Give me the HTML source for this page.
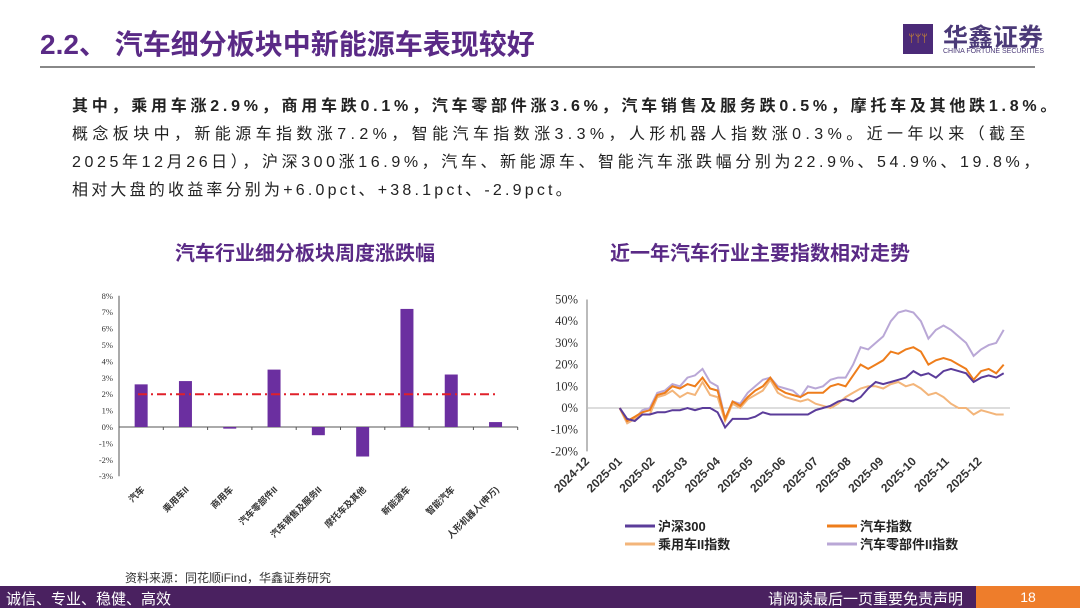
<!DOCTYPE html>
<html><head><meta charset="utf-8">
<style>
body{margin:0;width:1080px;height:608px;position:relative;background:#fff;font-family:"Liberation Sans","Noto Sans CJK SC",sans-serif;overflow:hidden}
.abs{position:absolute}
.p{left:72px;font-size:16px;color:#222;white-space:nowrap;letter-spacing:3.2px}
</style></head><body>
<div class="abs" style="left:40px;top:23px;font-size:28px;font-weight:bold;color:#5a2a86;white-space:nowrap">2.2、 汽车细分板块中新能源车表现较好</div>
<div class="abs" style="left:40px;top:66px;width:995px;height:2px;background:#888"></div>
<div class="abs" style="left:903px;top:24px;width:30px;height:30px;background:#4b2a78;color:#e8a020;font-size:11px;text-align:center;line-height:30px">ᛘᛘᛘ</div>
<div class="abs" style="left:943px;top:18px;font-size:25px;font-weight:bold;color:#4b3a78">华鑫证券</div>
<div class="abs" style="left:943px;top:48px;font-size:7px;color:#4b3a78">CHINA FORTUNE SECURITIES</div>
<div class="abs p" style="top:92px;font-weight:bold;letter-spacing:3.75px">其中，乘用车涨2.9%，商用车跌0.1%，汽车零部件涨3.6%，汽车销售及服务跌0.5%，摩托车及其他跌1.8%。</div>
<div class="abs p" style="top:120px;letter-spacing:4.4px">概念板块中，新能源车指数涨7.2%，智能汽车指数涨3.3%，人形机器人指数涨0.3%。近一年以来（截至</div>
<div class="abs p" style="top:148px;letter-spacing:3.6px">2025年12月26日），沪深300涨16.9%，汽车、新能源车、智能汽车涨跌幅分别为22.9%、54.9%、19.8%，</div>
<div class="abs p" style="top:176px">相对大盘的收益率分别为+6.0pct、+38.1pct、-2.9pct。</div>
<div class="abs" style="left:125px;top:237px;width:360px;text-align:center;font-size:20px;font-weight:bold;color:#5a2a86">汽车行业细分板块周度涨跌幅</div>
<div class="abs" style="left:580px;top:237px;width:360px;text-align:center;font-size:20px;font-weight:bold;color:#5a2a86">近一年汽车行业主要指数相对走势</div>
<svg class="abs" style="left:0;top:0" width="1080" height="608">
<g id="bar"></g><g id="line"></g>
</svg>
<div class="abs" style="left:125px;top:569px;font-size:12px;color:#333">资料来源：同花顺iFind，华鑫证券研究</div>
<div class="abs" style="left:0;top:586px;width:1080px;height:22px;background:#4a2160"></div>
<div class="abs" style="left:6px;top:588px;font-size:15px;color:#fff">诚信、专业、稳健、高效</div>
<div class="abs" style="left:768px;top:588px;font-size:15px;color:#fff">请阅读最后一页重要免责声明</div>
<div class="abs" style="left:976px;top:586px;width:104px;height:22px;background:#ee7d2b;color:#fff;font-size:14px;text-align:center;line-height:22px">18</div>
<script>
const barCats=["汽车","乘用车II","商用车","汽车零部件II","汽车销售及服务II","摩托车及其他","新能源车","智能汽车","人形机器人(申万)"];
const barVals=[2.6,2.8,-0.1,3.5,-0.5,-1.8,7.2,3.2,0.3];
const barTicks=[8,7,6,5,4,3,2,1,0,-1,-2,-3];
const refLine=2;
const months=["2024-12","2025-01","2025-02","2025-03","2025-04","2025-05","2025-06","2025-07","2025-08","2025-09","2025-10","2025-11","2025-12"];
const hs300=[0,-5,-6,-3,-3,-2,-2,-1,-1,0,-1,0,0,-2,-9,-5,-5,-5,-4,-2,-3,-3,-3,-3,-3,-3,-1,0,1,3,4,3,5,9,12,11,12,13,14,17,15,16,14,17,18,17,16,12,14,15,14,16];
const autoIdx=[0,-6,-4,-2,-1,6,7,10,9,11,10,14,9,8,-5,3,1,5,8,10,14,9,7,6,5,7,7,7,10,11,10,15,20,18,20,22,26,25,27,28,26,20,22,23,22,20,18,13,17,18,16,20];
const carIdx=[0,-7,-5,-3,-3,5,6,8,5,7,6,12,6,5,-6,2,0,4,6,8,13,7,5,4,3,4,2,1,0,2,5,7,9,10,10,9,11,12,10,11,9,6,7,5,2,0,0,-3,-1,-2,-3,-3];
const partsIdx=[0,-7,-5,-1,0,7,8,11,10,14,15,18,12,10,-5,3,2,7,10,13,14,10,9,8,5,10,9,10,13,14,14,20,28,27,30,33,40,44,45,44,40,32,36,38,36,33,30,24,27,29,30,36];
const lineTicks=[50,40,30,20,10,0,-10,-20];
const NS="http://www.w3.org/2000/svg";
function mk(p,t,a){const e=document.createElementNS(NS,t);for(const k in a)e.setAttribute(k,a[k]);p.appendChild(e);return e;}
const bg=document.getElementById('bar');
const by=v=>427-v*16.4, bx0=119, bw=44.3;
mk(bg,'line',{x1:bx0,y1:by(8),x2:bx0,y2:by(-3),stroke:'#555','stroke-width':1});
mk(bg,'line',{x1:bx0,y1:by(0),x2:bx0+bw*barCats.length,y2:by(0),stroke:'#555','stroke-width':1});
barTicks.forEach(t=>{const e=mk(bg,'text',{x:bx0-6,y:by(t)+3,'text-anchor':'end','font-size':8.5,fill:'#333','font-family':'Liberation Serif'});e.textContent=t+'%';});
barCats.forEach((c,i)=>{const cx=bx0+bw*(i+0.5),v=barVals[i];
 const r=mk(bg,'rect',{x:cx-6.5,y:Math.min(by(v),by(0)),width:13,height:Math.abs(by(v)-by(0)),fill:'#6b2fa0'});
 
 mk(bg,'line',{x1:bx0+bw*(i+1),y1:by(0),x2:bx0+bw*(i+1),y2:by(0)+3,stroke:'#555'});
 const t=mk(bg,'text',{x:cx+4,y:by(-3)+14,'text-anchor':'end','font-size':9,'font-weight':'bold',fill:'#333',transform:`rotate(-45 ${cx+4} ${by(-3)+14})`});
 t.textContent=c;});
const rl=mk(bg,'line',{x1:138,y1:by(refLine),x2:495,y2:by(refLine),stroke:'#e0202a','stroke-width':2,'stroke-dasharray':'9 4 2 4'});

const lg=document.getElementById('line');
const ly=v=>408-v*2.17, mx=m=>587+m*32.7, wx=i=>mx(1)+i*7/30.4*32.7;
mk(lg,'line',{x1:587,y1:ly(50),x2:587,y2:ly(-20),stroke:'#777'});
mk(lg,'line',{x1:587,y1:ly(0),x2:1010,y2:ly(0),stroke:'#bbb'});
lineTicks.forEach(t=>{const e=mk(lg,'text',{x:578,y:ly(t)+4,'text-anchor':'end','font-size':12.5,fill:'#333','font-family':'Liberation Serif'});e.textContent=t+'%';});
months.forEach((m,i)=>{const x=mx(i)+3,y=462;const e=mk(lg,'text',{x:x,y:y,'text-anchor':'end','font-size':12,fill:'#333','font-weight':'bold',transform:`rotate(-45 ${x} ${y})`});e.textContent=m;});
const series=[[partsIdx,'#b9a7d6','parts-line','汽车零部件II指数',1,857,544],[carIdx,'#f3b57a','passenger-car-line','乘用车II指数',0,655,544],[autoIdx,'#ee7d1b','auto-index-line','汽车指数',1,857,526],[hs300,'#5b3c9a','hs300-line','沪深300',0,655,526]];
series.forEach(s=>{const d=s[0].map((v,i)=>(i?'L':'M')+wx(i).toFixed(1)+' '+ly(v).toFixed(1)).join(' ');
 const p=mk(lg,'path',{d:d,fill:'none',stroke:s[1],'stroke-width':2});
 const lx=s[5]-30;mk(lg,'line',{x1:lx,y1:s[6],x2:s[5],y2:s[6],stroke:s[1],'stroke-width':3});
 const t=mk(lg,'text',{x:s[5]+3,y:s[6]+5,'font-size':13,'font-weight':'bold',fill:'#222'});t.textContent=s[3];});
</script>
</body></html>
